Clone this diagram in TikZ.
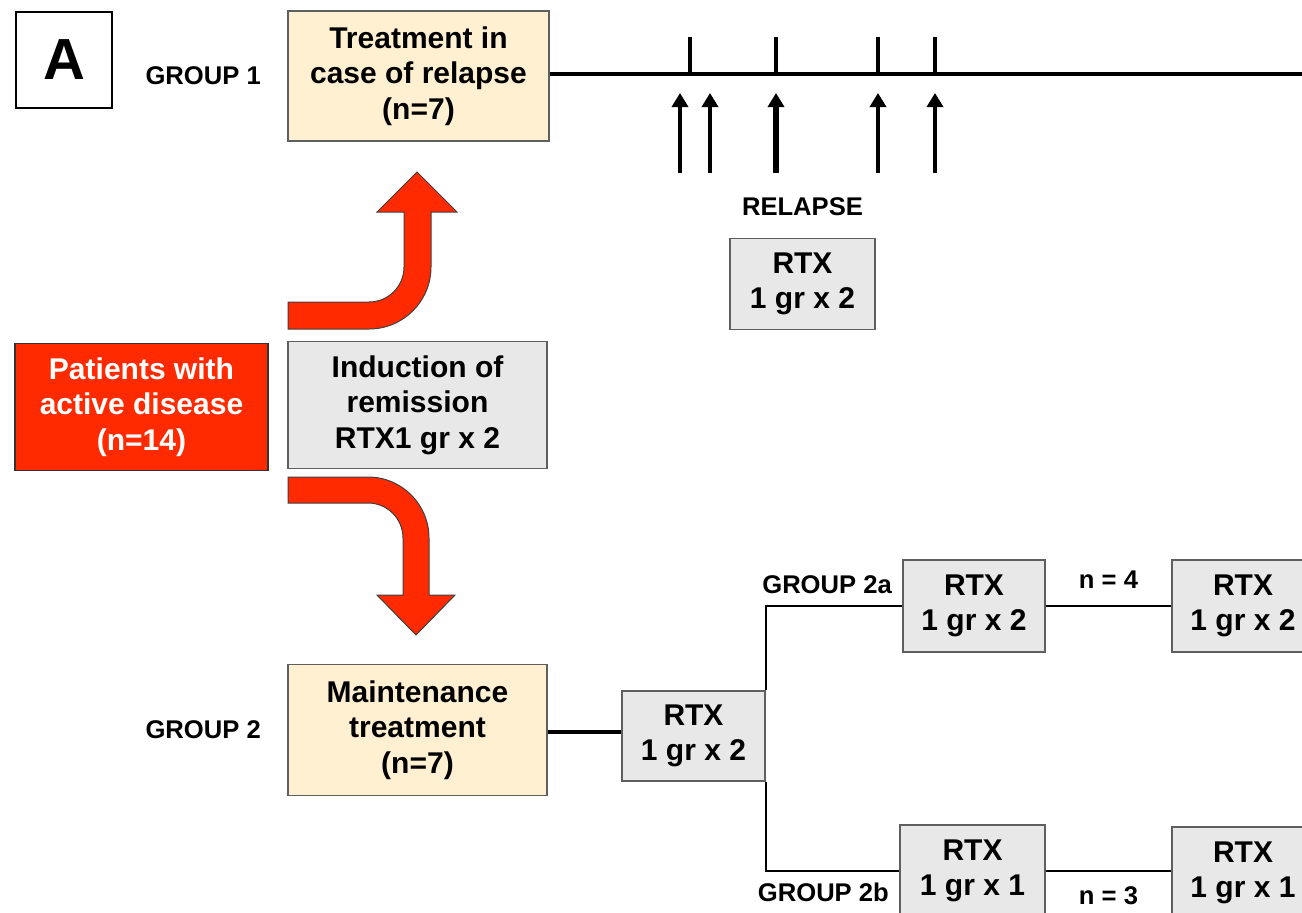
\documentclass[tikz,border=0pt]{standalone}
\usepackage{fontspec}
\setmainfont{Liberation Sans}
\usepackage{tikz}
\usetikzlibrary{
  positioning,
  arrows.meta
}
\definecolor{myBeige}{HTML}{FFF0D2}
\definecolor{myGray}{HTML}{E8E8E8}
\definecolor{myRed}{HTML}{FF2A00}
\definecolor{myEdge}{HTML}{5F5F5F}
\tikzstyle{box}=[draw=myEdge, line width=0.8pt, inner sep=0pt, align=center, font=\bfseries\fontsize{15}{17.8}\selectfont]
\tikzstyle{grouptext}=[inner sep=0pt, font=\bfseries\fontsize{12.8}{14}\selectfont]
\tikzstyle{bigarrow}=[fill=myRed, draw=black!75, line width=0.5pt]
\tikzstyle{timeline}=[line width=2pt]
\tikzstyle{branch}=[line width=1.3pt]

\begin{document}
\begin{tikzpicture}[x=0.5pt, y=-0.5pt]
      \useasboundingbox (0,0) rectangle (1302,912);
      \clip (0,0) rectangle (1302,912);

      % パネル記号
      \node[draw, line width=1pt, minimum size=48pt, inner sep=0pt,
        font=\bfseries\fontsize{29}{30}\selectfont] (panel) at (64,60) {A};

      % GROUP 1
      \node[box, fill=myBeige, minimum width=130.5pt, minimum height=65pt] (treat) at (418.5,76)
        {Treatment in\\case of relapse\\(n=7)};
      \node[grouptext, left=13pt of treat] (g1) {GROUP 1};

      % 再発のタイムライン
      \coordinate (tlend) at (1302,74);
      \draw[timeline] (treat.east |- tlend) -- (tlend);
      \foreach \t in {690,776,878,935}
        \draw[timeline] (\t,74) -- (\t,37);
      \foreach \t/\w in {680/2.2pt,710/2.2pt,776/3pt,878/2.2pt,935/2.2pt}
        \draw[line width=\w, -{Triangle[width=8pt,length=7pt]}] (\t,173) -- (\t,93);

      \node[box, fill=myGray, minimum width=72.5pt, minimum height=45.5pt] (rtxr) at (802.5,284)
        {RTX\\1 gr x 2};
      \node[grouptext, above=11pt of rtxr] (relapse) {RELAPSE};

      % 寛解導入
      \node[box, fill=myRed, draw=black!80, text=white, minimum width=126.5pt, minimum height=63.5pt]
        (patients) at (141.5,407) {Patients with\\active disease\\(n=14)};
      \node[box, fill=myGray, minimum width=129.5pt, minimum height=63.5pt] (induct) at (417.5,405)
        {Induction of\\remission\\RTX1 gr x 2};

      % 赤い矢印 (上)
      \draw[bigarrow] (288,302) -- (369,302) arc[start angle=90, end angle=0, radius=35]
        -- (404,212) -- (377,212) -- (417,172) -- (457,212) -- (431,212) -- (431,267)
        arc[start angle=0, end angle=90, radius=62] -- (288,329) -- cycle;
      % 赤い矢印 (下)
      \draw[bigarrow] (288,477) -- (368,477) arc[start angle=-90, end angle=0, radius=61]
        -- (429,595) -- (455,595) -- (416,635) -- (377,595) -- (403,595) -- (403,538)
        arc[start angle=0, end angle=-90, radius=35] -- (288,503) -- cycle;

      % GROUP 2
      \node[box, fill=myBeige, minimum width=129.5pt, minimum height=65.5pt] (maint) at (417.5,730)
        {Maintenance\\treatment\\(n=7)};
      \node[grouptext, left=13pt of maint] (g2) {GROUP 2};

      \node[box, fill=myGray, minimum width=71.5pt, minimum height=45pt] (rtxc) at (693.5,736)
        {RTX\\1 gr x 2};
      \draw[timeline] (maint.east |- 0,732) -- (rtxc.west |- 0,732);

      % GROUP 2a / 2b
      \node[box, fill=myGray, minimum width=71pt, minimum height=46pt] (rtxa) at (974,606)
        {RTX\\1 gr x 2};
      \node[box, fill=myGray, minimum width=71pt, minimum height=46pt] (rtxaa) at (1243,606)
        {RTX\\1 gr x 2};
      \node[box, fill=myGray, minimum width=72.5pt, minimum height=46pt] (rtxb) at (972.5,871)
        {RTX\\1 gr x 1};
      \node[box, fill=myGray, minimum width=71pt, minimum height=46pt] (rtxbb) at (1243,873)
        {RTX\\1 gr x 1};

      \draw[branch] (rtxc.north east) |- (rtxa.west);
      \draw[branch] (rtxc.south east) |- (rtxb.west);
      \draw[branch] (rtxa.east) -- (rtxaa.west) node[grouptext, midway, above=8pt] (na) {n = 4};
      \draw[branch] (rtxb.east) -- (rtxb.east -| rtxbb.west) node[grouptext, midway, below=7pt] (nb) {n = 3};

      \node[grouptext, above left=6pt and 5pt of rtxa.west] (g2a) {GROUP 2a};
      \node[grouptext, below left=6pt and 5pt of rtxb.west] (g2b) {GROUP 2b};
\end{tikzpicture}
\end{document}
